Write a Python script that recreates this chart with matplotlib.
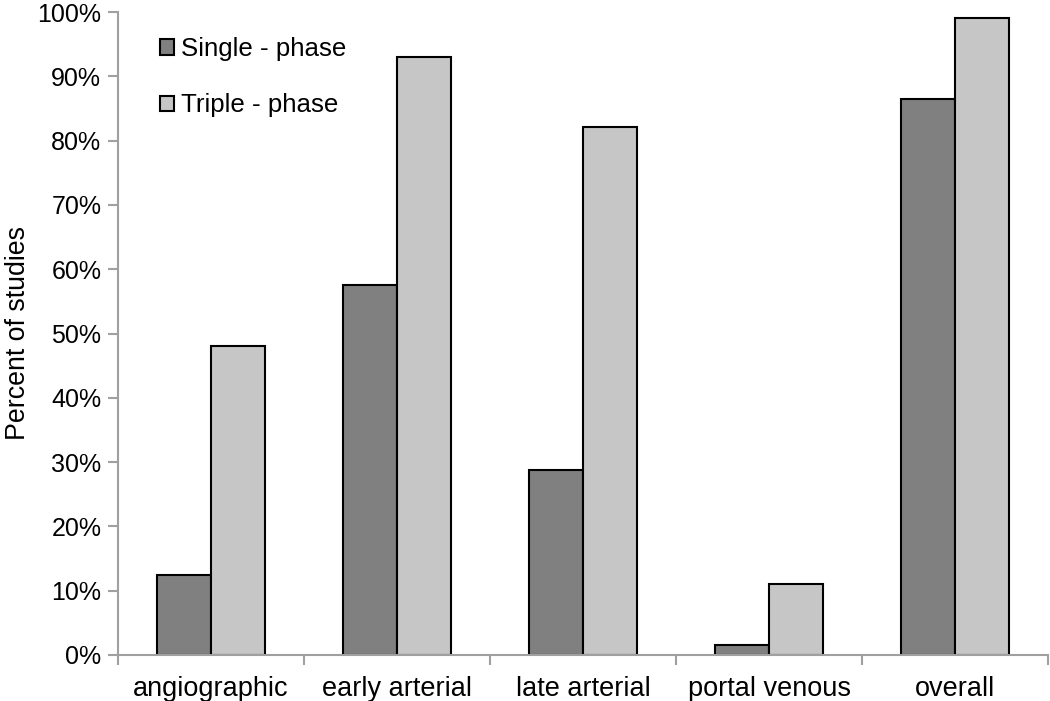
import matplotlib.pyplot as plt
import numpy as np
from matplotlib.ticker import FixedLocator, FixedFormatter, PercentFormatter

plt.rcParams["font.family"] = ["Liberation Sans", "DejaVu Sans"]

categories = ["angiographic", "early arterial", "late arterial", "portal venous", "overall"]
single_phase = [12.5, 57.6, 28.8, 1.5, 86.4]
triple_phase = [48.1, 93.0, 82.1, 11.1, 99.0]
series_labels = ["Single - phase", "Triple - phase"]
yticks = list(range(0, 101, 10))

GRID_GREY = "#a0a0a0"

fig = plt.figure(figsize=(10.5, 7.01), dpi=100)
ax = fig.add_axes([118 / 1050, 1 - 655 / 701, (1048 - 118) / 1050, (655 - 12) / 701])

x = np.arange(len(categories))
width = 0.29
ax.bar(x - width / 2, single_phase, width, color="#808080", edgecolor="black",
       linewidth=1.5, label=series_labels[0])
ax.bar(x + width / 2, triple_phase, width, color="#c6c6c6", edgecolor="black",
       linewidth=1.5, label=series_labels[1])

ax.set_xlim(-0.5, len(categories) - 0.5)
ax.set_ylim(0, 100)

ax.yaxis.set_major_locator(FixedLocator(yticks))
ax.yaxis.set_major_formatter(PercentFormatter(decimals=0))

# category boundaries as major ticks, labels as minor ticks at the centres
ax.xaxis.set_major_locator(FixedLocator(np.arange(-0.5, len(categories), 1.0)))
ax.xaxis.set_major_formatter(FixedFormatter([""] * (len(categories) + 1)))
ax.xaxis.set_minor_locator(FixedLocator(x))
ax.xaxis.set_minor_formatter(FixedFormatter(categories))
ax.tick_params(axis="x", which="minor", length=0, pad=15, labelsize=19.5)
ax.tick_params(axis="x", which="major", length=7, color=GRID_GREY, width=1.5, direction="out")
ax.tick_params(axis="y", length=7, color=GRID_GREY, width=1.5, direction="out",
               labelsize=18, pad=5)

for side in ("top", "right"):
    ax.spines[side].set_visible(False)
for side in ("left", "bottom"):
    ax.spines[side].set_color(GRID_GREY)
    ax.spines[side].set_linewidth(1.5)

ax.set_ylabel("Percent of studies", fontsize=19.3)
ax.yaxis.set_label_coords(-0.094, 0.5)

ax.legend(loc="upper left", bbox_to_anchor=(0.020, 0.997), frameon=False,
          fontsize=18.6, handlelength=0.55, handleheight=0.55, handletextpad=0.25,
          labelspacing=1.25)

fig.savefig("out.png", dpi=100)
